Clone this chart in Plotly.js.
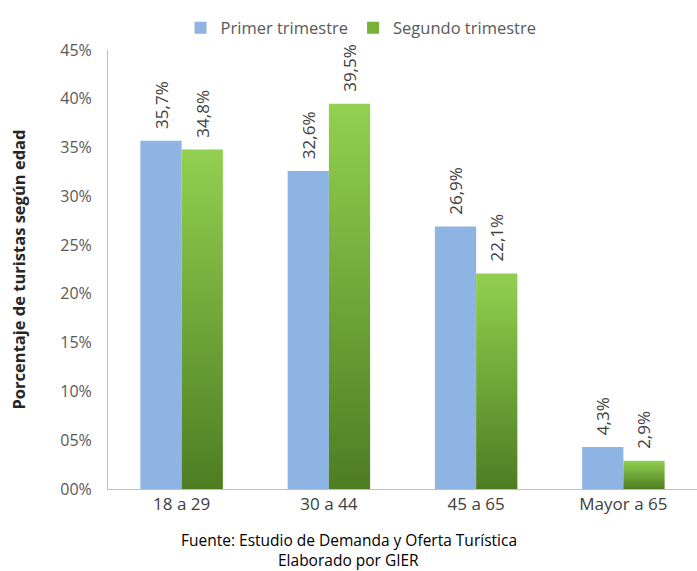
<!DOCTYPE html>
<html>
<head>
<meta charset="utf-8">
<script src="https://cdn.plot.ly/plotly-3.0.1.min.js"></script>
<style>
html,body{margin:0;padding:0;background:#fff;}
#chart{width:697px;height:571px;}
</style>
</head>
<body>
<div id="chart"></div>
<script>
const categories = ["18 a 29", "30 a 44", "45 a 65", "Mayor a 65"];
const primer = [35.7, 32.6, 26.9, 4.3];
const segundo = [34.8, 39.5, 22.1, 2.9];
const seriesNames = ["Primer trimestre", "Segundo trimestre"];
const tickVals = [0, 5, 10, 15, 20, 25, 30, 35, 40, 45];
const tickText = ["00%", "05%", "10%", "15%", "20%", "25%", "30%", "35%", "40%", "45%"];

function fmt(v){ return '\u00a0\u00a0' + v.toFixed(1).replace('.', ',') + '%'; }

const FONT = "Open Sans, Liberation Sans, sans-serif";

const traces = [
  {
    type: 'bar', name: seriesNames[0], x: categories, y: primer,
    text: primer.map(fmt), textposition: 'outside', textangle: -90, constraintext: 'none',
    textfont: {family: FONT, size: 17, color: '#404040'},
    marker: {color: '#8EB4E3', line: {width: 0}},
    cliponaxis: false, hoverinfo: 'none'
  },
  {
    type: 'bar', name: seriesNames[1], x: categories, y: segundo,
    text: segundo.map(fmt), textposition: 'outside', textangle: -90, constraintext: 'none',
    textfont: {family: FONT, size: 17, color: '#404040'},
    marker: {color: '#77B23A', line: {width: 0}},
    cliponaxis: false, hoverinfo: 'none'
  }
];

const layout = {
  width: 697, height: 571,
  margin: {l: 108, r: 0, t: 50, b: 82},
  paper_bgcolor: '#fff', plot_bgcolor: '#fff',
  font: {family: FONT, color: '#595959', size: 14},
  bargap: 0.44, bargroupgap: 0,
  showlegend: true,
  legend: {
    orientation: 'h', xref: 'container', yref: 'container',
    x: 0.518, xanchor: 'center', y: 0.951, yanchor: 'middle',
    font: {family: FONT, size: 16.5, color: '#595959'},
    itemwidth: 30, traceorder: 'normal'
  },
  xaxis: {
    type: 'category', showgrid: false, zeroline: false,
    showline: true, linecolor: '#BFBFBF', linewidth: 1,
    ticks: '', tickfont: {family: FONT, size: 17, color: '#404040'}
  },
  yaxis: {
    range: [0, 45], tickvals: tickVals, ticktext: tickText,
    showgrid: false, zeroline: false,
    showline: true, linecolor: '#BFBFBF', linewidth: 1,
    ticks: '', ticklabelstandoff: 12,
    tickfont: {family: FONT, size: 16, color: '#595959'},
    title: {text: '<b>Porcentaje de turistas según edad</b>', standoff: 30,
            font: {family: FONT, size: 16.5, color: '#262626'}}
  },
  annotations: [
    {text: 'Fuente: Estudio de Demanda y Oferta Turística', xref: 'paper', yref: 'paper',
     x: 0.409, y: -0.116, showarrow: false, xanchor: 'center', yanchor: 'middle',
     font: {family: FONT, size: 15.5, color: '#000'}},
    {text: 'Elaborado por GIER', xref: 'paper', yref: 'paper',
     x: 0.409, y: -0.162, showarrow: false, xanchor: 'center', yanchor: 'middle',
     font: {family: FONT, size: 15.5, color: '#000'}}
  ]
};

Plotly.newPlot('chart', traces, layout, {displayModeBar: false, staticPlot: true}).then(function(gd){
  const NS = 'http://www.w3.org/2000/svg';
  const svg = gd.querySelector('.main-svg');
  let defs = svg.querySelector('defs');
  if (!defs) { defs = document.createElementNS(NS, 'defs'); svg.insertBefore(defs, svg.firstChild); }
  const grad = document.createElementNS(NS, 'linearGradient');
  grad.setAttribute('id', 'greenGrad');
  grad.setAttribute('x1', '0'); grad.setAttribute('y1', '0');
  grad.setAttribute('x2', '0'); grad.setAttribute('y2', '1');
  [['0%', '#92D050'], ['100%', '#4E7D22']].forEach(function(s){
    const st = document.createElementNS(NS, 'stop');
    st.setAttribute('offset', s[0]); st.setAttribute('stop-color', s[1]);
    grad.appendChild(st);
  });
  defs.appendChild(grad);
  const traceGroups = gd.querySelectorAll('.barlayer .trace');
  if (traceGroups.length > 1) {
    traceGroups[1].querySelectorAll('.point path').forEach(function(p){ p.style.fill = 'url(#greenGrad)'; });
  }
});
</script>
</body>
</html>
